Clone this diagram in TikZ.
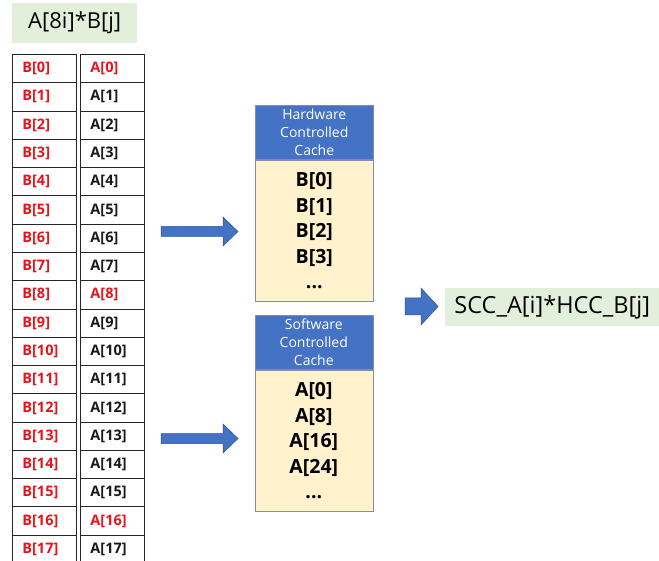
\documentclass[tikz,border=0pt]{standalone}
\usepackage{fontspec}
\setmainfont{Open Sans}
\definecolor{hdrblue}{HTML}{4472C4}
\definecolor{arrblue}{HTML}{4472C4}
\definecolor{arredge}{HTML}{2F528F}
\definecolor{bodyyel}{HTML}{FFF2CC}
\definecolor{lblgreen}{HTML}{E2EFDA}
\definecolor{cellred}{HTML}{E8141C}
\definecolor{boxedge}{HTML}{7F8FA6}
\begin{document}
\begin{tikzpicture}[x=1pt,y=-1pt,
  cell/.style={draw=black!85,line width=0.9pt,minimum width=64pt,minimum height=28.28pt,inner sep=0pt,anchor=north west,text width=44pt,align=left,font=\fontsize{14.5}{16}\selectfont\bfseries},
  bcell/.style={cell,text=cellred},
  acell/.style={cell,text=black!90},
  ared/.style={cell,text=cellred},
  lbl/.style={fill=lblgreen,inner sep=0pt,font=\fontsize{22}{26}\selectfont},
  hdr/.style={fill=hdrblue,draw=boxedge,line width=0.6pt,text=white,align=center,inner sep=0pt,font=\fontsize{14}{18}\selectfont},
  bodyb/.style={fill=bodyyel,draw=boxedge,line width=0.6pt,align=center,inner sep=0pt,font=\fontsize{19.5}{25.5}\selectfont\bfseries},
  blockarrow/.style={fill=arrblue,draw=arredge,line width=0.5pt}
]
\useasboundingbox (0,0) rectangle (659,561);
\fill[white] (0,0) rectangle (659,561);

% top label
\node[lbl,minimum width=125pt,minimum height=40pt,anchor=north west] (toplbl) at (12,3) {A[8i]*B[j]};

% table
\foreach \i in {0,...,17}{
  \pgfmathsetmacro{\yy}{54+\i*28.28}
  \node[bcell] (b\i) at (12,\yy) {B[\i]};
  \ifnum\i=0 \node[ared] (a\i) at (80,\yy) {A[\i]};
  \else\ifnum\i=8 \node[ared] (a\i) at (80,\yy) {A[\i]};
  \else\ifnum\i=16 \node[ared] (a\i) at (80,\yy) {A[\i]};
  \else \node[acell] (a\i) at (80,\yy) {A[\i]};
  \fi\fi\fi
}

% hardware cache
\node[hdr,minimum width=118pt,minimum height=54pt,anchor=north west] (hwh) at (255,105) {Hardware\\Controlled\\Cache};
\node[bodyb,minimum width=118pt,minimum height=141.5pt,anchor=north] (hwb) at (hwh.south) {B[0]\\B[1]\\B[2]\\B[3]\\...};

% software cache
\node[hdr,minimum width=118pt,minimum height=54pt,anchor=north west] (swh) at (254.5,315) {Software\\Controlled\\Cache};
\node[bodyb,minimum width=118pt,minimum height=141.5pt,anchor=north] (swb) at (swh.south) {A[0]\\A[8]\\A[16]\\A[24]\\...};

% result label
\node[lbl,minimum width=214pt,minimum height=38pt,anchor=north west,font=\fontsize{23.5}{27}\selectfont] (res) at (445,288) {SCC\_A[i]*HCC\_B[j]};

% block arrows
\fill[blockarrow] (161,226.5) -- (223,226.5) -- (223,217) -- (238,231.5) -- (223,246) -- (223,236.5) -- (161,236.5) -- cycle;
\fill[blockarrow] (161,433.5) -- (223,433.5) -- (223,424) -- (238,438.5) -- (223,453) -- (223,443.5) -- (161,443.5) -- cycle;
\fill[blockarrow] (405,298) -- (421,298) -- (421,288) -- (438,306.5) -- (421,325) -- (421,315) -- (405,315) -- cycle;
\end{tikzpicture}
\end{document}
